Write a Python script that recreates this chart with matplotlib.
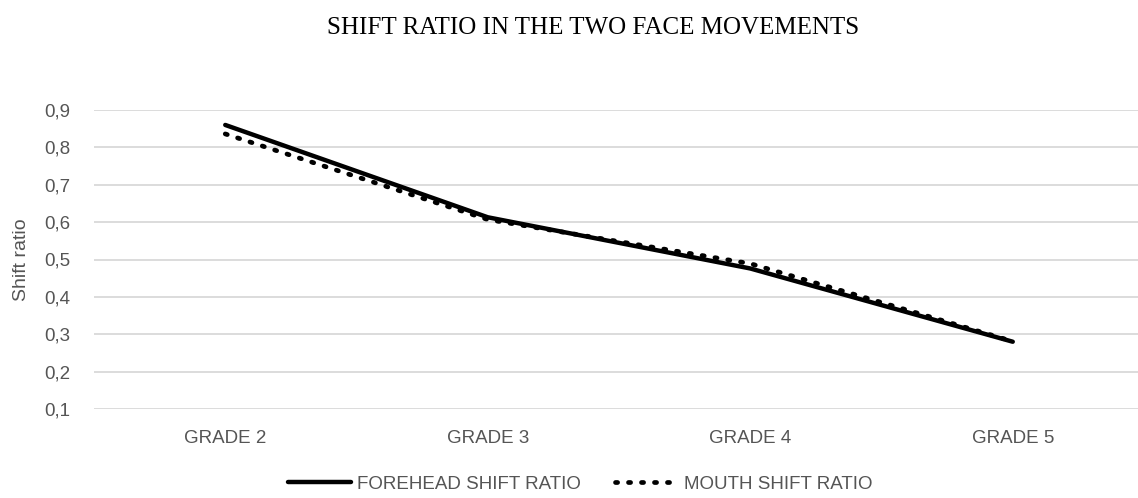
import matplotlib
matplotlib.use("Agg")
import matplotlib.pyplot as plt
from matplotlib.ticker import FuncFormatter

categories = ["GRADE 2", "GRADE 3", "GRADE 4", "GRADE 5"]
forehead = [0.86, 0.613, 0.476, 0.28]
mouth = [0.836, 0.607, 0.489, 0.281]
yticks = [0.1, 0.2, 0.3, 0.4, 0.5, 0.6, 0.7, 0.8, 0.9]

fig = plt.figure(figsize=(11.38, 4.98), dpi=100)
ax = fig.add_axes([94/1138, 89/498, 1050/1138, 299/498])

x = list(range(len(categories)))
ax.plot(x, forehead, color="black", lw=3.2, solid_capstyle="round",
        label="FOREHEAD SHIFT RATIO", zorder=3)
ax.plot(x, mouth, color="black", lw=3.4, linestyle=(0, (0.45, 2.3)),
        dash_capstyle="round", label="MOUTH SHIFT RATIO", zorder=3)

ax.set_xlim(-0.5, 3.5)
ax.set_ylim(0.1, 0.9)
ax.set_yticks(yticks)
ax.yaxis.set_major_formatter(FuncFormatter(lambda v, p: f"{v:.1f}".replace(".", ",")))
ax.set_xticks(x)
ax.set_xticklabels(categories, fontfamily="Liberation Sans", fontsize=13.5,
                   color="#555555")
for lab in ax.get_yticklabels():
    lab.set_fontfamily("Liberation Sans")
    lab.set_fontsize(13.5)
    lab.set_color("#555555")
ax.tick_params(axis="both", length=0)
ax.tick_params(axis="y", pad=17)
ax.tick_params(axis="x", pad=15)
ax.grid(axis="y", color="#d9d9d9", lw=1.3)
ax.set_axisbelow(True)
for s in ax.spines.values():
    s.set_visible(False)

ax.set_ylabel("Shift ratio", fontfamily="Liberation Sans", fontsize=14,
              color="#555555", labelpad=10)

fig.text(593/1138, 1 - 28/498, "SHIFT RATIO IN THE TWO FACE MOVEMENTS",
         ha="center", va="center", fontfamily="Liberation Serif", fontsize=18)

leg = fig.legend(loc="center", bbox_to_anchor=(580/1138, 1 - 484/498), ncol=2,
                 frameon=False, handlelength=3.4, columnspacing=1.8,
                 handletextpad=0.3,
                 prop={"family": "Liberation Sans", "size": 13.5})
for t in leg.get_texts():
    t.set_color("#555555")

fig.savefig("out.png", dpi=100)
